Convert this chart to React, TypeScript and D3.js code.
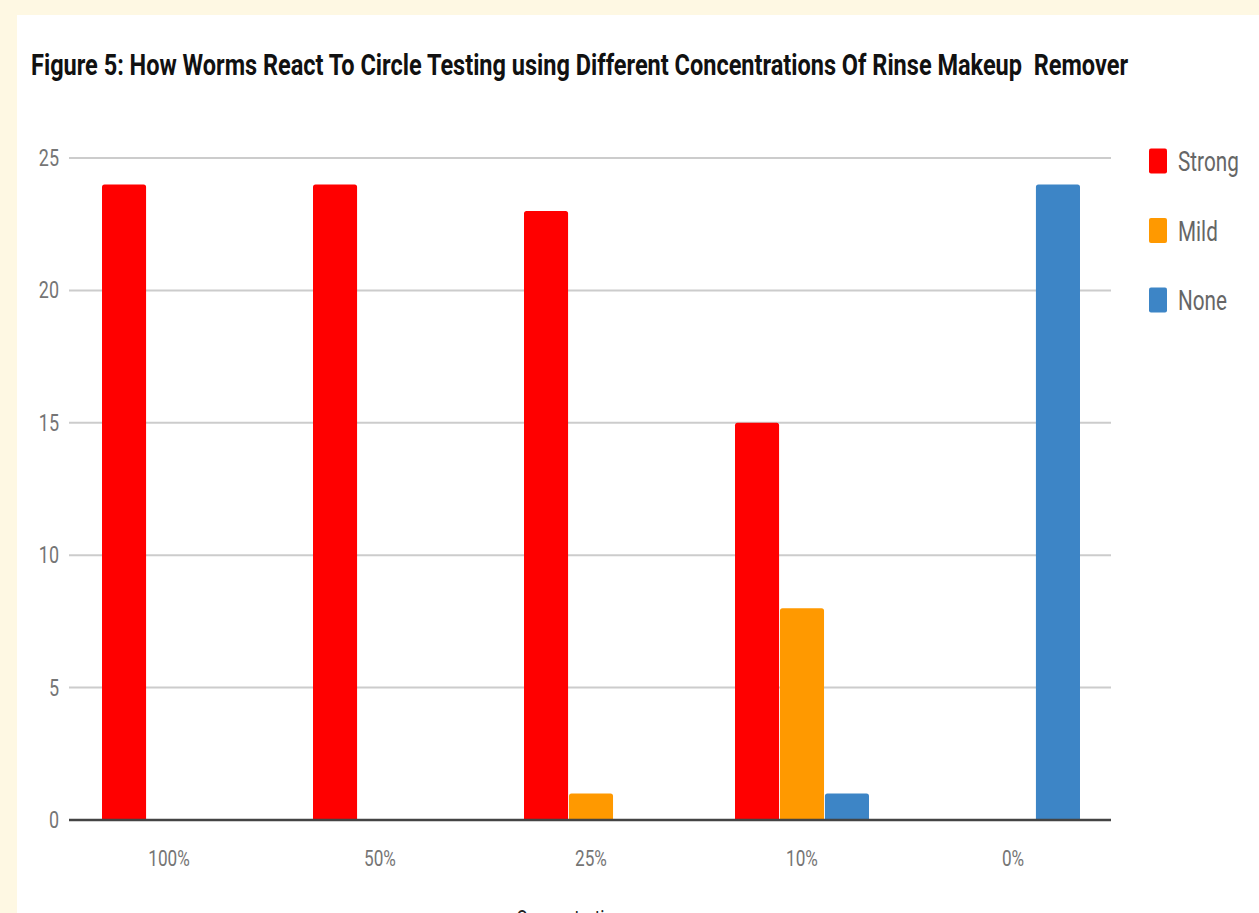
import React from "react";
import * as d3 from "d3";

// Worm reactions per concentration of rinse makeup remover
const concentrations = ["100%", "50%", "25%", "10%", "0%"];
const seriesNames = ["Strong", "Mild", "None"];
const strongValues = [24, 24, 23, 15, 0];
const mildValues = [0, 0, 1, 8, 0];
const noneValues = [0, 0, 0, 1, 24];
const yTicks = [0, 5, 10, 15, 20, 25];
const seriesColors = ["#ff0000", "#ff9900", "#3d85c6"];

const titleText =
  "Figure 5: How Worms React To Circle Testing using Different Concentrations Of Rinse Makeup  Remover";
const xAxisTitle = "Concentration";

const W = 1259;
const H = 913;
const plotLeft = 69;
const plotRight = 1111;
const plotTop = 158;
const plotBottom = 820;
const condensed = 0.78;

function topRoundedBar(x: number, y: number, w: number, h: number, r: number) {
  if (h <= 0) return "";
  const rr = Math.min(r, h, w / 2);
  return `M${x},${y + h}V${y + rr}Q${x},${y} ${x + rr},${y}H${x + w - rr}Q${x + w},${y} ${x + w},${y + rr}V${y + h}Z`;
}

export default function App() {
  const seriesValues = [strongValues, mildValues, noneValues];

  const y = d3.scaleLinear().domain([0, 25]).range([plotBottom, plotTop]);
  const x0 = d3
    .scaleBand<string>()
    .domain(concentrations)
    .range([63.5, 1118.5])
    .paddingInner(0.365)
    .paddingOuter(0.1825);
  const x1 = d3
    .scaleBand<string>()
    .domain(seriesNames)
    .range([0, x0.bandwidth()])
    .paddingInner(0.02);

  const font = "Roboto, 'Noto Sans', sans-serif";

  return (
    <div style={{ position: "fixed", left: 0, top: 0 }}>
      <svg width={W} height={H} style={{ display: "block" }}>
        <rect x={0} y={0} width={W} height={H} fill="#fef8e3" />
        <rect x={17} y={15} width={W - 17} height={H - 15} fill="#ffffff" />

        <text
          x={31}
          y={75}
          fontFamily={font}
          fontWeight={700}
          fontSize={30}
          fill="#111"
          textLength={1097}
          lengthAdjust="spacingAndGlyphs"
          style={{ whiteSpace: "pre" }}
        >
          {titleText}
        </text>

        {/* gridlines and y tick labels */}
        {yTicks.map((t) => (
          <g key={t}>
            {t !== 0 && (
              <line
                x1={plotLeft}
                x2={plotRight}
                y1={y(t)}
                y2={y(t)}
                stroke="#cccccc"
                strokeWidth={2}
              />
            )}
            <text
              transform={`translate(59,${y(t) + 8}) scale(${condensed},1)`}
              textAnchor="end"
              fontFamily={font}
              fontSize={23}
              fill="#757575"
            >
              {t}
            </text>
          </g>
        ))}

        {/* bars */}
        {concentrations.map((c, i) => (
          <g key={c} transform={`translate(${x0(c)},0)`}>
            {seriesNames.map((s, j) => {
              const v = seriesValues[j][i];
              const top = y(v);
              return (
                <path
                  key={s}
                  d={topRoundedBar(x1(s)!, top, x1.bandwidth(), plotBottom - top, 2.5)}
                  fill={seriesColors[j]}
                />
              );
            })}
          </g>
        ))}

        {/* baseline */}
        <line
          x1={plotLeft}
          x2={plotRight}
          y1={plotBottom}
          y2={plotBottom}
          stroke="#444444"
          strokeWidth={2.5}
        />

        {/* x tick labels */}
        {concentrations.map((c) => (
          <text
            key={c}
            transform={`translate(${x0(c)! + x0.bandwidth() / 2},866) scale(${condensed},1)`}
            textAnchor="middle"
            fontFamily={font}
            fontSize={22}
            fill="#757575"
          >
            {c}
          </text>
        ))}

        <text
          transform={`translate(570,926) scale(${condensed},1)`}
          textAnchor="middle"
          fontFamily={font}
          fontSize={22}
          fill="#222"
        >
          {xAxisTitle}
        </text>

        {/* legend */}
        {seriesNames.map((s, j) => {
          const cy = 161 + j * 69.5;
          return (
            <g key={s}>
              <rect
                x={1149}
                y={cy - 12.5}
                width={18}
                height={25}
                rx={2}
                fill={seriesColors[j]}
              />
              <text
                transform={`translate(1178,${cy + 10}) scale(0.74,1)`}
                fontFamily={font}
                fontSize={28}
                fill="#666666"
              >
                {s}
              </text>
            </g>
          );
        })}
      </svg>
    </div>
  );
}
